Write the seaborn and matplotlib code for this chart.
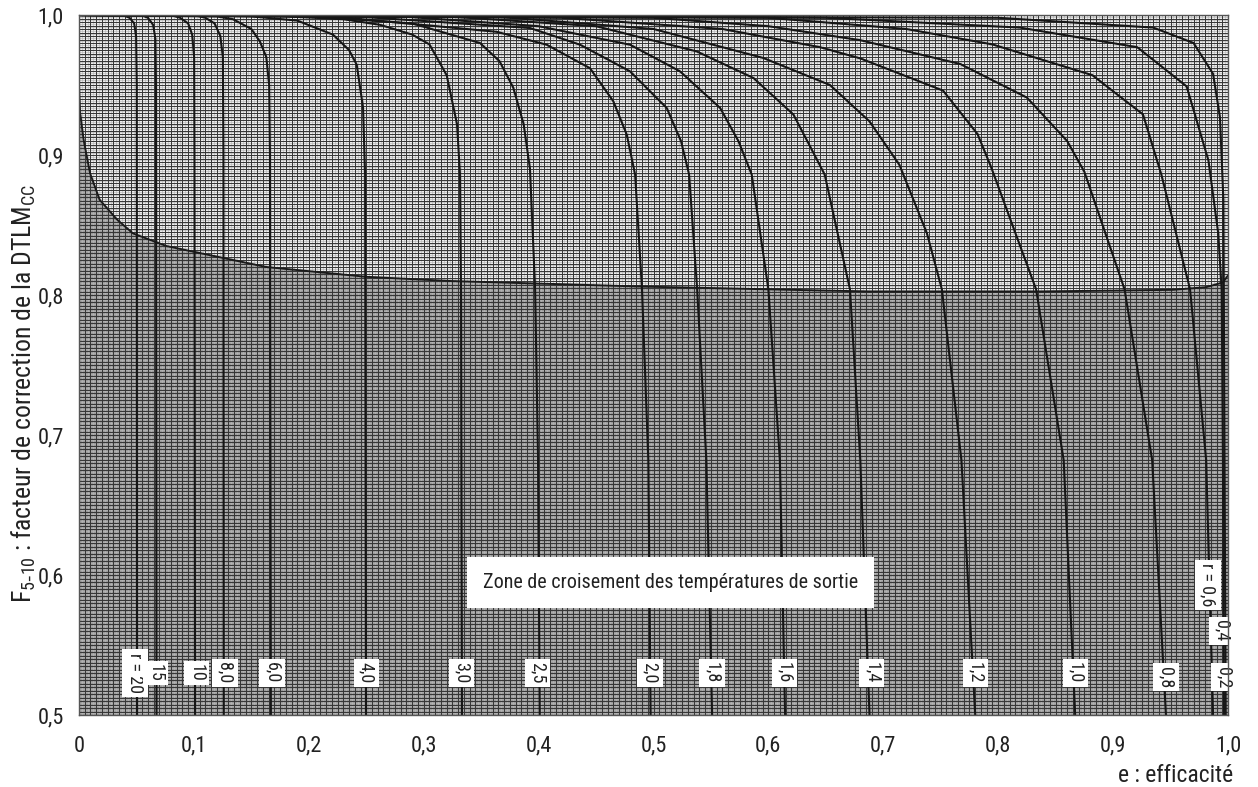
import numpy as np
import pandas as pd
import matplotlib
matplotlib.use("Agg")
import matplotlib.pyplot as plt
from matplotlib import font_manager
import seaborn as sns

# ---- curve data: efficiency e vs correction factor F, one curve per r ----
r_labels = ["r = 20", "15", "10", "8,0", "6,0", "4,0", "3,0", "2,5", "2,0",
            "1,8", "1,6", "1,4", "1,2", "1,0", "0,8", "r = 0,6", "0,4", "0,2"]

e_r20 = [0.0, 0.038, 0.044, 0.048, 0.0497, 0.0503, 0.0505]
F_r20 = [1.0, 1.0, 0.998, 0.994, 0.985, 0.95, 0.5]
e_r15 = [0.0, 0.054, 0.060, 0.0645, 0.0665, 0.067, 0.0675]
F_r15 = [1.0, 1.0, 0.998, 0.993, 0.983, 0.95, 0.5]
e_r10 = [0.0, 0.080, 0.088, 0.095, 0.0985, 0.1002, 0.1005, 0.101]
F_r10 = [1.0, 1.0, 0.998, 0.994, 0.986, 0.97, 0.9, 0.5]
e_r8 = [0.0, 0.100, 0.110, 0.118, 0.123, 0.1252, 0.1257, 0.126]
F_r8 = [1.0, 1.0, 0.998, 0.994, 0.985, 0.97, 0.9, 0.5]
e_r6 = [0.0, 0.12, 0.134, 0.150, 0.1575, 0.163, 0.1655, 0.1662, 0.167]
F_r6 = [1.0, 0.999, 0.997, 0.99, 0.981, 0.97, 0.95, 0.9, 0.5]
e_r4 = [0.0, 0.15, 0.19, 0.221, 0.235, 0.2417, 0.2472, 0.249, 0.2498]
F_r4 = [1.0, 0.999, 0.996, 0.986, 0.975, 0.9645, 0.934, 0.886, 0.5]
e_r3 = [0.0, 0.18, 0.23, 0.262, 0.290, 0.305, 0.320, 0.329, 0.3316, 0.3325, 0.3333]
F_r3 = [1.0, 0.999, 0.997, 0.993, 0.986, 0.979, 0.957, 0.922, 0.886, 0.8, 0.5]
e_r25 = [0.0, 0.20, 0.29, 0.349, 0.366, 0.378, 0.387, 0.3925, 0.397, 0.3995, 0.401]
F_r25 = [1.0, 0.999, 0.994, 0.980, 0.967, 0.948, 0.922, 0.89, 0.804, 0.682, 0.5]
e_r2 = [0.0, 0.22, 0.3635, 0.407, 0.4447, 0.465, 0.4767, 0.484, 0.490, 0.4955, 0.4975]
F_r2 = [1.0, 0.999, 0.988, 0.9788, 0.962, 0.9384, 0.9146, 0.886, 0.804, 0.682, 0.5]
e_r18 = [0.0, 0.24, 0.3925, 0.436, 0.4795, 0.5115, 0.524, 0.531, 0.538, 0.546, 0.551]
F_r18 = [1.0, 0.999, 0.9907, 0.9788, 0.9598, 0.9336, 0.9098, 0.886, 0.804, 0.682, 0.5]
e_r16 = [0.0, 0.28, 0.40, 0.4795, 0.523, 0.558, 0.574, 0.5855, 0.600, 0.610, 0.6145]
F_r16 = [1.0, 0.999, 0.992, 0.9788, 0.9598, 0.9336, 0.9098, 0.886, 0.804, 0.682, 0.5]
e_r14 = [0.0, 0.32, 0.45, 0.5376, 0.587, 0.6217, 0.637, 0.649, 0.671, 0.680, 0.688]
F_r14 = [1.0, 0.999, 0.992, 0.974, 0.955, 0.929, 0.905, 0.886, 0.804, 0.682, 0.5]
e_r12 = [0.0, 0.36, 0.50, 0.5956, 0.6536, 0.688, 0.714, 0.738, 0.751, 0.768, 0.780]
F_r12 = [1.0, 0.999, 0.990, 0.9693, 0.950, 0.924, 0.893, 0.844, 0.804, 0.682, 0.5]
e_r1 = [0.0, 0.42, 0.56, 0.645, 0.680, 0.752, 0.782, 0.794, 0.833, 0.857, 0.867]
F_r1 = [1.0, 0.998, 0.990, 0.977, 0.969, 0.946, 0.915, 0.891, 0.804, 0.682, 0.5]
e_r08 = [0.0, 0.50, 0.60, 0.680, 0.767, 0.825, 0.860, 0.875, 0.910, 0.934, 0.946]
F_r08 = [1.0, 0.998, 0.992, 0.982, 0.965, 0.941, 0.910, 0.888, 0.804, 0.682, 0.5]
e_r06 = [0.0, 0.60, 0.72, 0.795, 0.882, 0.926, 0.942, 0.967, 0.981, 0.987]
F_r06 = [1.0, 0.998, 0.990, 0.979, 0.957, 0.929, 0.886, 0.804, 0.682, 0.5]
e_r04 = [0.0, 0.65, 0.819, 0.921, 0.964, 0.983, 0.9915, 0.9945, 0.9956, 0.9965]
F_r04 = [1.0, 0.998, 0.991, 0.977, 0.949, 0.896, 0.844, 0.804, 0.682, 0.5]
e_r02 = [0.0, 0.80, 0.935, 0.970, 0.987, 0.993, 0.996, 0.998]
F_r02 = [1.0, 0.998, 0.991, 0.980, 0.958, 0.927, 0.868, 0.5]

# temperature-cross boundary (lower edge of the clear zone)
e_cross = [0.0, 0.001, 0.004, 0.0096, 0.018, 0.033, 0.047, 0.076, 0.105, 0.163,
           0.25, 0.323, 0.491, 0.688, 0.836, 0.952, 0.981, 0.9956, 1.0]
F_cross = [0.95, 0.93, 0.911, 0.887, 0.868, 0.854, 0.844, 0.835, 0.830, 0.820,
           0.813, 0.810, 0.806, 0.8025, 0.8025, 0.8037, 0.8056, 0.809, 0.814]

# label anchor points (e, F) for each r curve
lab_e = [0.0487, 0.0666, 0.102, 0.127, 0.168, 0.250, 0.333, 0.399, 0.497,
         0.551, 0.614, 0.690, 0.780, 0.867, 0.946, 0.9826, 0.9948, 0.9965]
lab_F = [0.530, 0.530, 0.530, 0.530, 0.530, 0.530, 0.530, 0.530, 0.530,
         0.530, 0.530, 0.530, 0.530, 0.530, 0.527, 0.593, 0.560, 0.527]

xtick_vals = [0.0, 0.1, 0.2, 0.3, 0.4, 0.5, 0.6, 0.7, 0.8, 0.9, 1.0]
xtick_text = ["0", "0,1", "0,2", "0,3", "0,4", "0,5", "0,6", "0,7", "0,8", "0,9", "1,0"]
ytick_vals = [0.5, 0.6, 0.7, 0.8, 0.9, 1.0]
ytick_text = ["0,5", "0,6", "0,7", "0,8", "0,9", "1,0"]

curve_e = [e_r20, e_r15, e_r10, e_r8, e_r6, e_r4, e_r3, e_r25, e_r2,
           e_r18, e_r16, e_r14, e_r12, e_r1, e_r08, e_r06, e_r04, e_r02]
curve_F = [F_r20, F_r15, F_r10, F_r8, F_r6, F_r4, F_r3, F_r25, F_r2,
           F_r18, F_r16, F_r14, F_r12, F_r1, F_r08, F_r06, F_r04, F_r02]

rows = []
for lab, es, fs in zip(r_labels, curve_e, curve_F):
    for k, (e, f) in enumerate(zip(es, fs)):
        rows.append({"r": lab, "order": k, "e": e, "F": f})
df = pd.DataFrame(rows)

# ---- styling ----
sns.set_theme(style="white")
installed = {f.name for f in font_manager.fontManager.ttflist}
narrow = next((n for n in ["Roboto Condensed", "Liberation Sans Narrow",
                           "Arial Narrow", "Open Sans Condensed"] if n in installed), None)
if narrow:
    plt.rcParams["font.family"] = [narrow, "DejaVu Sans"]
    fs_tick, fs_ylab, fs_xlab, fs_zone, fs_lab = 16, 18.5, 17, 14.5, 13
else:
    plt.rcParams["font.family"] = ["Liberation Sans", "DejaVu Sans"]
    fs_tick, fs_ylab, fs_xlab, fs_zone, fs_lab = 14.5, 16, 14, 13, 11.5
plt.rcParams["mathtext.default"] = "regular"
plt.rcParams["lines.solid_capstyle"] = "round"
plt.rcParams["lines.solid_joinstyle"] = "round"

fig = plt.figure(figsize=(12.58, 7.87), dpi=100)
ax = fig.add_axes([79 / 1258, 1 - 715 / 787, 1149 / 1258, 700 / 787])

ax.set_xlim(0, 1)
ax.set_ylim(0.5, 1.0)
ax.set_facecolor("#ececec")

# shaded zone where outlet temperatures cross
ax.fill_between(e_cross + [1.0], F_cross + [F_cross[-1]], 0.5,
                color="#9a9a9a", zorder=0, lw=0)

# graph-paper grid: dark lines every 0.005, light half-lines between
fine = np.arange(0.0, 1.0001, 0.005)
half = np.arange(0.0025, 1.0, 0.005)
ax.vlines(half, 0.5, 1.0, colors="#b8b8b8", lw=0.45, zorder=1)
ax.hlines(0.5 + half / 2, 0, 1, colors="#b8b8b8", lw=0.45, zorder=1)
ax.vlines(fine, 0.5, 1.0, colors="#353535", lw=0.7, zorder=1)
ax.hlines(0.5 + fine / 2, 0, 1, colors="#353535", lw=0.7, zorder=1)

# boundary of the crossing zone
ax.plot(e_cross, F_cross, color="#1a1a1a", lw=1.4, zorder=3)

# correction-factor curves
sns.lineplot(data=df, x="e", y="F", hue="r", units="r", estimator=None,
             sort=False, palette=["#161616"] * len(r_labels), legend=False,
             lw=1.5, ax=ax, zorder=4)

# curve labels in white boxes, read top-to-bottom
for lab, xe, yf in zip(r_labels, lab_e, lab_F):
    ax.text(xe, yf, lab, rotation=270, ha="center", va="center", fontsize=fs_lab,
            color="#222222", zorder=6, clip_on=False,
            bbox=dict(boxstyle="square,pad=0.2", fc="white", ec="none"))

ax.text(0.515, 0.5946, "Zone de croisement des températures de sortie",
        ha="center", va="center", fontsize=fs_zone, color="#222222", zorder=6,
        bbox=dict(boxstyle="square,pad=0.8", fc="white", ec="none"))

ax.set_xticks(xtick_vals)
ax.set_xticklabels(xtick_text, fontsize=fs_tick, color="#222222")
ax.set_yticks(ytick_vals)
ax.set_yticklabels(ytick_text, fontsize=fs_tick, color="#222222")
ax.tick_params(axis="x", length=0, pad=15)
ax.tick_params(axis="y", length=0, pad=11)
ax.set_xlabel("")
ax.set_ylabel(r"F$_{5\text{-}10}$ : facteur de correction de la DTLM$_{CC}$",
              fontsize=fs_ylab, color="#222222")
ax.yaxis.set_label_coords(-0.036, 0.46)
fig.text(1233 / 1258, 1 - 775 / 787, "e : efficacité", ha="right", va="center",
         fontsize=fs_xlab, color="#222222")

for s in ax.spines.values():
    s.set_color("#555555")
    s.set_linewidth(1.0)
    s.set_zorder(7)

fig.savefig("out.png", dpi=100, facecolor="white")
